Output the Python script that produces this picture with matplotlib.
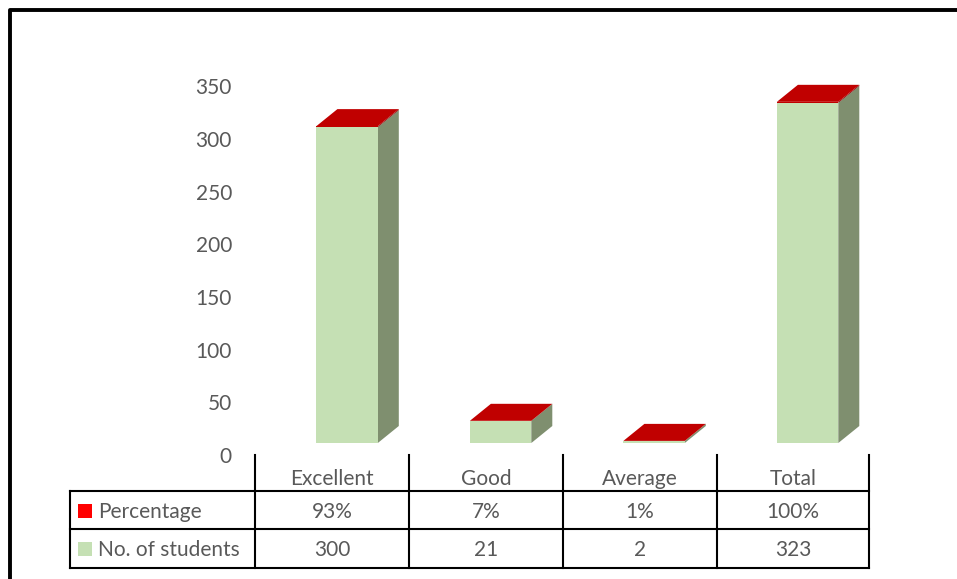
import matplotlib
matplotlib.use("Agg")
import matplotlib.pyplot as plt
from matplotlib.patches import Polygon, Rectangle
from matplotlib.lines import Line2D
import matplotlib.transforms as mtransforms

categories = ["Excellent", "Good", "Average", "Total"]
students = [300, 21, 2, 323]
percentage = [0.93, 0.07, 0.01, 1.00]
pct_labels = ["93%", "7%", "1%", "100%"]
series_names = ["Percentage", "No. of students"]
yticks = [0, 50, 100, 150, 200, 250, 300, 350]

FRONT_GREEN = "#C5E0B4"
SIDE_GREEN = "#7F8F6F"
TOP_RED = "#C00000"
SIDE_RED = "#8A0000"
KEY_RED = "#FF0000"
TXT = "#595959"
FONT = "Lato"
FS = 15

W, H = 957, 579
DPI = 100
fig = plt.figure(figsize=(W / DPI, H / DPI), dpi=DPI)

def fx(px):
    return px / W

def fy(py):
    return 1 - py / H

# main axes in pixel layout
x_left, x_right = 255, 869
y_bottom, y_top = 443, 443 - 350 * 1.053
ax = fig.add_axes([fx(x_left), fy(y_bottom), fx(x_right - x_left), (y_bottom - y_top) / H])
ax.set_xlim(-0.5, len(categories) - 0.5)
ax.set_ylim(0, 350)
ax.axis("off")

bar_w = 0.4
shift = 0.1
xs = [i + shift for i in range(len(categories))]
green = ax.bar(xs, students, width=bar_w, color=FRONT_GREEN, linewidth=0, zorder=2)
red = ax.bar(xs, percentage, bottom=students, width=bar_w, color=TOP_RED, linewidth=0, zorder=2)

DX, DY = 21, 17  # depth in pixels
inv = ax.transData.inverted()

def to_data(px_pts):
    return inv.transform(px_pts)

for gb, rb in zip(green, red):
    x0 = gb.get_x()
    x1 = x0 + gb.get_width()
    for b, scol in ((gb, SIDE_GREEN), (rb, SIDE_RED)):
        yb = b.get_y()
        yt = yb + b.get_height()
        d = ax.transData.transform([(x1, yb), (x1, yt)])
        pts = [d[0], d[1], d[1] + [DX, DY], d[0] + [DX, DY]]
        ax.add_patch(Polygon(to_data(pts), closed=True, facecolor=scol, edgecolor="none", zorder=1))
    ytop = rb.get_y() + rb.get_height()
    d = ax.transData.transform([(x0, ytop), (x1, ytop)])
    pts = [d[0], d[1], d[1] + [DX, DY], d[0] + [DX, DY]]
    ax.add_patch(Polygon(to_data(pts), closed=True, facecolor=TOP_RED, edgecolor="none", zorder=3))

# y tick labels (shifted down as in the 3D reference)
off = mtransforms.ScaledTranslation(0, -14 / DPI, fig.dpi_scale_trans)
btrans = mtransforms.blended_transform_factory(fig.transFigure, ax.transData) + off
for t in yticks:
    ax.text(fx(232), t, str(t), transform=btrans, ha="right", va="center",
            fontsize=FS, color=TXT, family=FONT, clip_on=False)

# overlay axes in pixel coords for table and border
ov = fig.add_axes([0, 0, 1, 1], zorder=5)
ov.set_xlim(0, W)
ov.set_ylim(H, 0)
ov.axis("off")
ov.patch.set_alpha(0)

# frame border (extends beyond the image on right/bottom)
ov.plot([10, 10, 1000], [700, 10, 10], color="black", lw=2.8, solid_capstyle="projecting")

col_edges = [255, 409, 563, 717, 869]
row_lines = [491, 529, 568]
lw = 1.5
for xe in col_edges:
    ov.add_line(Line2D([xe, xe], [455, 568], color="black", lw=lw))
ov.add_line(Line2D([70, 70], [491, 568], color="black", lw=lw))
for yl in row_lines:
    ov.add_line(Line2D([70, 869], [yl, yl], color="black", lw=lw))

centers = [(col_edges[i] + col_edges[i + 1]) / 2 for i in range(len(categories))]
for c, name in zip(centers, categories):
    ov.text(c, 479, name, ha="center", va="center", fontsize=FS, color=TXT, family=FONT)
row_y = [511, 549]
for c, p, s in zip(centers, pct_labels, students):
    ov.text(c, row_y[0] + 1, p, ha="center", va="center", fontsize=FS, color=TXT, family=FONT)
    ov.text(c, row_y[1] + 1, str(s), ha="center", va="center", fontsize=FS, color=TXT, family=FONT)

for ry, name, kc in zip(row_y, series_names, [KEY_RED, FRONT_GREEN]):
    ov.add_patch(Rectangle((78, ry - 7), 14, 14, facecolor=kc, edgecolor="none"))
    ov.text(98, ry + 1, name, ha="left", va="center", fontsize=FS, color=TXT, family=FONT)

fig.savefig("out.png", dpi=DPI)
